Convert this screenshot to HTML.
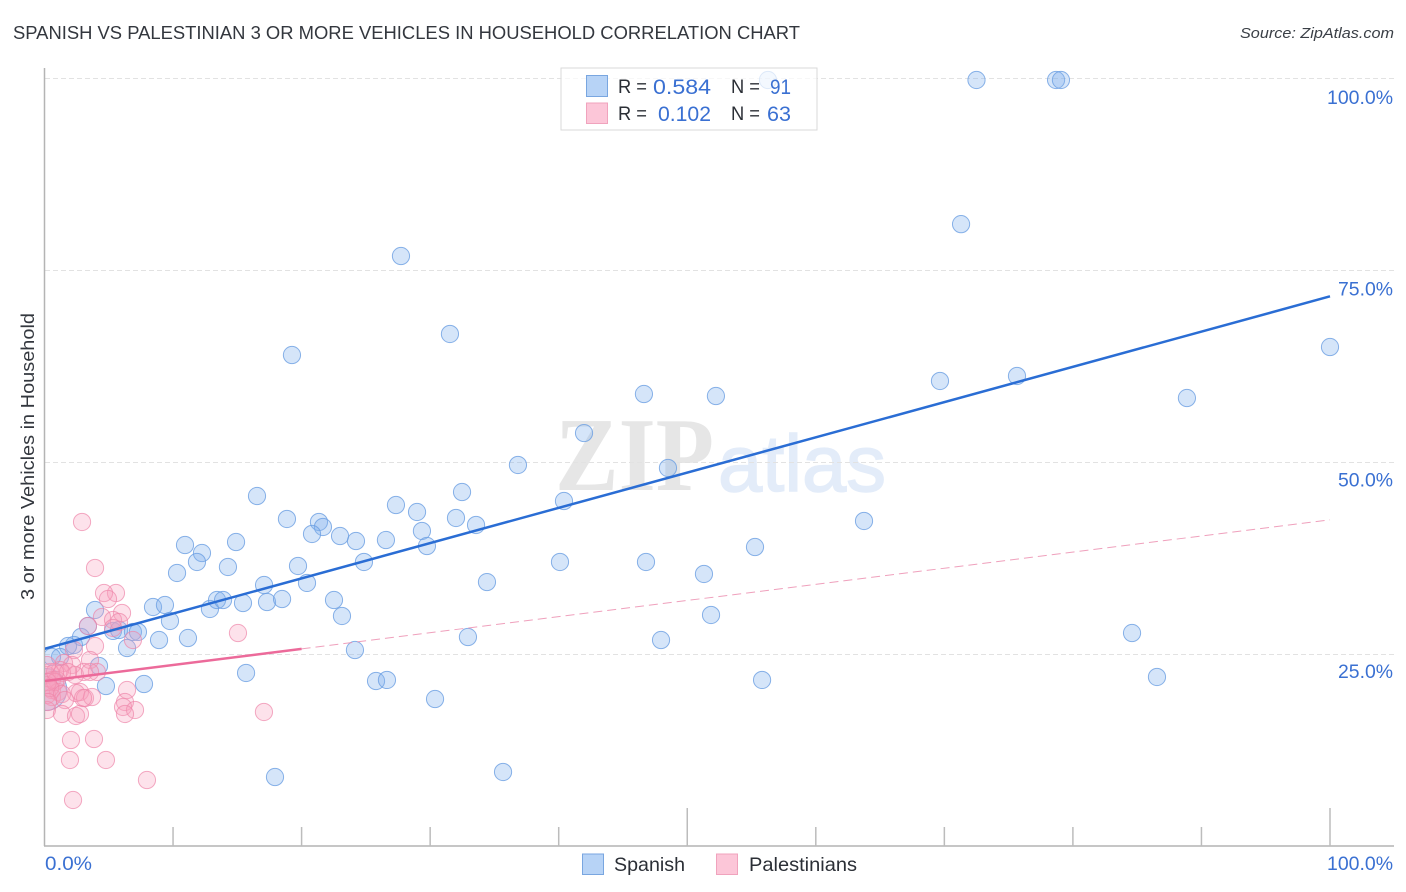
<!DOCTYPE html>
<html lang="en">
<head>
<meta charset="utf-8">
<title>Spanish vs Palestinian correlation chart</title>
<style>
html,body{margin:0;padding:0;background:#fff;width:1406px;height:892px;overflow:hidden}
svg{display:block;font-family:"Liberation Sans",sans-serif}
</style>
</head>
<body>
<svg id="chart" width="1406" height="892" viewBox="0 0 1406 892" xmlns="http://www.w3.org/2000/svg">
  <defs><clipPath id="plot-clip"><rect x="45" y="60" width="1349" height="786"/></clipPath></defs>
  <text x="13" y="39" font-size="18.5" fill="#33373e" textLength="787" lengthAdjust="spacingAndGlyphs">SPANISH VS PALESTINIAN 3 OR MORE VEHICLES IN HOUSEHOLD CORRELATION CHART</text>
  <text x="1394" y="38" font-size="15" font-style="italic" fill="#3a3f46" text-anchor="end" textLength="154" lengthAdjust="spacingAndGlyphs">Source: ZipAtlas.com</text>
  <text transform="translate(34,600) rotate(-90)" font-size="18.5" fill="#33373e" textLength="287" lengthAdjust="spacingAndGlyphs">3 or more Vehicles in Household</text>
  <g>
    <text x="555" y="490" font-family="'Liberation Serif',serif" font-weight="bold" font-size="105" fill="#e6e6e6" textLength="159" lengthAdjust="spacingAndGlyphs">ZIP</text>
    <text x="718" y="491" font-family="'Liberation Sans',sans-serif" font-size="80" fill="#e3ecf9" stroke="#e3ecf9" stroke-width="1.5" textLength="168" lengthAdjust="spacingAndGlyphs">atlas</text>
  </g>
  <g id="grid"></g>
  <g id="axes"></g>
  <g id="points" clip-path="url(#plot-clip)"></g>
  <g id="trends" clip-path="url(#plot-clip)"></g>
  <g id="ylabels"></g>
  <g id="xlabels"></g>

  <g>
    <rect x="561" y="68" width="256" height="62" fill="#fff" fill-opacity="0.72" stroke="#d9d9d9" stroke-width="1"/>
    <rect x="586.5" y="75.5" width="21" height="21" fill="#b7d3f6" stroke="#79a6e0"/>
    <rect x="586.5" y="103" width="21" height="20.5" fill="#fcc6d8" stroke="#f0a3bd"/>
    <g font-size="19.5" fill="#2b2f36">
      <text x="618" y="93" textLength="29" lengthAdjust="spacingAndGlyphs">R =</text>
      <text x="731" y="93" textLength="29" lengthAdjust="spacingAndGlyphs">N =</text>
      <text x="618" y="120" textLength="29" lengthAdjust="spacingAndGlyphs">R =</text>
      <text x="731" y="120" textLength="29" lengthAdjust="spacingAndGlyphs">N =</text>
    </g>
    <g font-size="21" fill="#3a70d2">
      <text x="653" y="94" textLength="58" lengthAdjust="spacingAndGlyphs">0.584</text>
      <text x="770" y="94" textLength="21" lengthAdjust="spacingAndGlyphs">91</text>
      <text x="658" y="121" textLength="53" lengthAdjust="spacingAndGlyphs">0.102</text>
      <text x="767" y="121" textLength="24" lengthAdjust="spacingAndGlyphs">63</text>
    </g>
  </g>

  <g>
    <rect x="582.5" y="854" width="21" height="20.5" fill="#b7d3f6" stroke="#79a6e0"/>
    <text x="614" y="871" font-size="19.5" fill="#2b2f36" textLength="71" lengthAdjust="spacingAndGlyphs">Spanish</text>
    <rect x="716.5" y="854" width="21" height="20.5" fill="#fcc6d8" stroke="#f0a3bd"/>
    <text x="749" y="871" font-size="19.5" fill="#2b2f36" textLength="108" lengthAdjust="spacingAndGlyphs">Palestinians</text>
  </g>
</svg>
<script>
const spanishX = [56.28,72.5,78.69,79.07,71.3,27.73,31.54,19.25,100,46.63,52.23,69.66,75.65,88.87,41.97,36.83,48.5,32.48,16.53,40.41,27.34,28.98,18.86,21.35,21.66,20.81,22.99,24.23,26.56,32.01,33.57,29.36,29.75,63.75,55.27,10.93,12.25,11.86,14.9,14.27,10.31,24.85,19.72,40.1,46.79,51.3,34.42,17.08,20.42,8.44,9.37,9.76,12.87,13.42,13.89,15.44,17.31,18.48,22.52,23.14,51.85,3.93,3.38,5.33,5.8,6.88,7.27,2.84,2.29,1.83,6.42,8.91,11.16,32.94,47.96,84.6,24.15,1.21,0.58,4.24,15.68,25.79,26.64,7.74,4.78,30.38,55.82,86.54,17.93,35.67];
const spanishY = [99.87,99.87,99.87,99.87,81.1,76.95,66.8,64.06,65.1,58.98,58.72,60.68,61.33,58.46,53.9,49.74,49.35,46.22,45.7,45.05,44.53,43.62,42.71,42.32,41.67,40.76,40.49,39.84,39.97,42.84,41.93,41.15,39.19,42.45,39.06,39.32,38.28,37.11,39.71,36.46,35.68,37.11,36.59,37.11,37.11,35.55,34.5,34.11,34.38,31.25,31.51,29.43,30.99,32.16,32.16,31.77,31.9,32.29,32.16,30.08,30.21,30.86,28.78,28.13,28.26,28,28,27.34,26.3,26.17,25.91,26.95,27.21,27.34,26.95,27.86,25.65,24.74,24.74,23.57,22.66,21.61,21.75,21.22,20.96,19.27,21.75,22.14,9.11,9.77];
const spanishLargeX = [0.1];
const spanishLargeY = [20.5];
const palestinianX = [2.92,3.93,5.56,4.63,4.94,6.03,4.47,3.38,5.33,5.8,5.33,6.88,15.05,3.93,2.29,1.52,3.54,2.14,1.21,3.07,4.08,2.37,3.54,0.43,0.19,1.36,0.58,0.97,0.19,0.58,1.05,0.19,0.58,0.82,0.27,0.43,2.76,2.45,1.36,3.15,3.7,6.42,6.26,6.11,7.04,6.26,17.07,0.19,1.59,1.36,2.45,2.76,2.06,3.85,1.98,4.78,7.97,2.22,0.27,1.83,0.82,3,0.19];
const palestinianY = [42.32,36.33,33.07,33.07,32.29,30.47,29.95,28.78,29.56,29.3,28.52,26.95,27.86,26.17,25.65,23.96,24.35,23.7,23.05,22.79,22.79,22.4,22.79,22.79,22.4,22.66,21.75,21.75,21.09,20.44,20.18,19.79,19.53,21.48,21.48,20.7,20.18,20.05,19.92,19.4,19.53,20.44,18.88,18.23,17.84,17.32,17.58,17.84,19.14,17.32,17.06,17.32,13.93,14.06,11.33,11.33,8.72,6.12,18.88,22.79,22.79,19.4,23.7];
const spanishTrend = [25.8, 71.7];
const palestinianTrend = [21.6, 42.6];
const palestinianSolidEnd = 20;
const yTickValues = [100,75,50,25];
const yTickLabels = ["100.0%","75.0%","50.0%","25.0%"];
const xTickValues = [0,10,20,30,40,50,60,70,80,90,100];
const xMajorTicks = [50,100];
const xEndLabels = ["0.0%","100.0%"];

const NS = 'http://www.w3.org/2000/svg';
function sx(v){ return 44.5 + v * 12.855; }
function sy(v){ return 847 - v * 7.68; }
function labelY(v){ return 104 + (100 - v) * 7.653; }
function make(tag, parent, attrs){
  const el = document.createElementNS(NS, tag);
  for (const k in attrs) el.setAttribute(k, attrs[k]);
  parent.appendChild(el);
  return el;
}
function trendAt(t, x){ return t[0] + (t[1] - t[0]) * x / 100; }

const grid = document.getElementById('grid');
yTickValues.forEach(function(v){
  const l = make('line', grid, {x1:45, x2:1395, y1:sy(v) - 0.5, y2:sy(v) - 0.5, stroke:'#e2e2e2', 'stroke-width':1, 'stroke-dasharray':'5 3'});
  
  
});

const axes = document.getElementById('axes');
const yAxis = make('line', axes, {x1:44.5, x2:44.5, y1:68, y2:846, stroke:'#b4b4b4', 'stroke-width':1.5});


const xAxis = make('line', axes, {x1:44, x2:1394, y1:846, y2:846, stroke:'#b4b4b4', 'stroke-width':1.5});


xTickValues.forEach(function(v){
  if (v === 0) return;
  const top = xMajorTicks.indexOf(v) >= 0 ? 808 : 827;
  const t = make('line', axes, {x1:sx(v), x2:sx(v), y1:top, y2:846, stroke:'#bcbcbc', 'stroke-width':1.5});
  
  
});

const points = document.getElementById('points');
spanishX.forEach(function(x, i){
  const c = make('circle', points, {cx:sx(x), cy:sy(spanishY[i]), r:8.6, fill:'#7fb0ec', 'fill-opacity':0.33, stroke:'#6b9fe2', 'stroke-opacity':0.8, 'stroke-width':1});
  
  
});
spanishLargeX.forEach(function(x, i){
  const c = make('circle', points, {cx:sx(x), cy:sy(spanishLargeY[i]), r:21, fill:'#7fb0ec', 'fill-opacity':0.33, stroke:'#6b9fe2', 'stroke-opacity':0.8, 'stroke-width':1});
  
  
});
palestinianX.forEach(function(x, i){
  const c = make('circle', points, {cx:sx(x), cy:sy(palestinianY[i]), r:8.6, fill:'#f7a0bd', 'fill-opacity':0.3, stroke:'#ee86aa', 'stroke-opacity':0.7, 'stroke-width':1});
  
  
});

const trends = document.getElementById('trends');
const dash = make('line', trends, {x1:sx(palestinianSolidEnd), y1:sy(trendAt(palestinianTrend, palestinianSolidEnd)), x2:sx(100), y2:sy(trendAt(palestinianTrend, 100)), stroke:'#ec8fb0', 'stroke-width':1, 'stroke-opacity':0.85, 'stroke-dasharray':'9 5'});


const pinkLine = make('line', trends, {x1:sx(0), y1:sy(trendAt(palestinianTrend, 0)), x2:sx(palestinianSolidEnd), y2:sy(trendAt(palestinianTrend, palestinianSolidEnd)), stroke:'#ec6a9a', 'stroke-width':2.5});


const blueLine = make('line', trends, {x1:sx(0), y1:sy(trendAt(spanishTrend, 0)), x2:sx(100), y2:sy(trendAt(spanishTrend, 100)), stroke:'#2a6dd4', 'stroke-width':2.5});



const ylabels = document.getElementById('ylabels');
yTickValues.forEach(function(v, i){
  const t = make('text', ylabels, {x:1393, y:labelY(v), 'font-size':19.5, fill:'#3a70d2', 'text-anchor':'end', textLength:yTickLabels[i].length * 11, lengthAdjust:'spacingAndGlyphs'});
  t.textContent = yTickLabels[i];
  
  
});

const xlabels = document.getElementById('xlabels');
const x0 = make('text', xlabels, {x:45, y:870, 'font-size':19.5, fill:'#3a70d2', textLength:47, lengthAdjust:'spacingAndGlyphs'});
x0.textContent = xEndLabels[0];


const x100 = make('text', xlabels, {x:1393, y:870, 'font-size':19.5, fill:'#3a70d2', 'text-anchor':'end', textLength:66, lengthAdjust:'spacingAndGlyphs'});
x100.textContent = xEndLabels[1];


</script>
</body>
</html>
